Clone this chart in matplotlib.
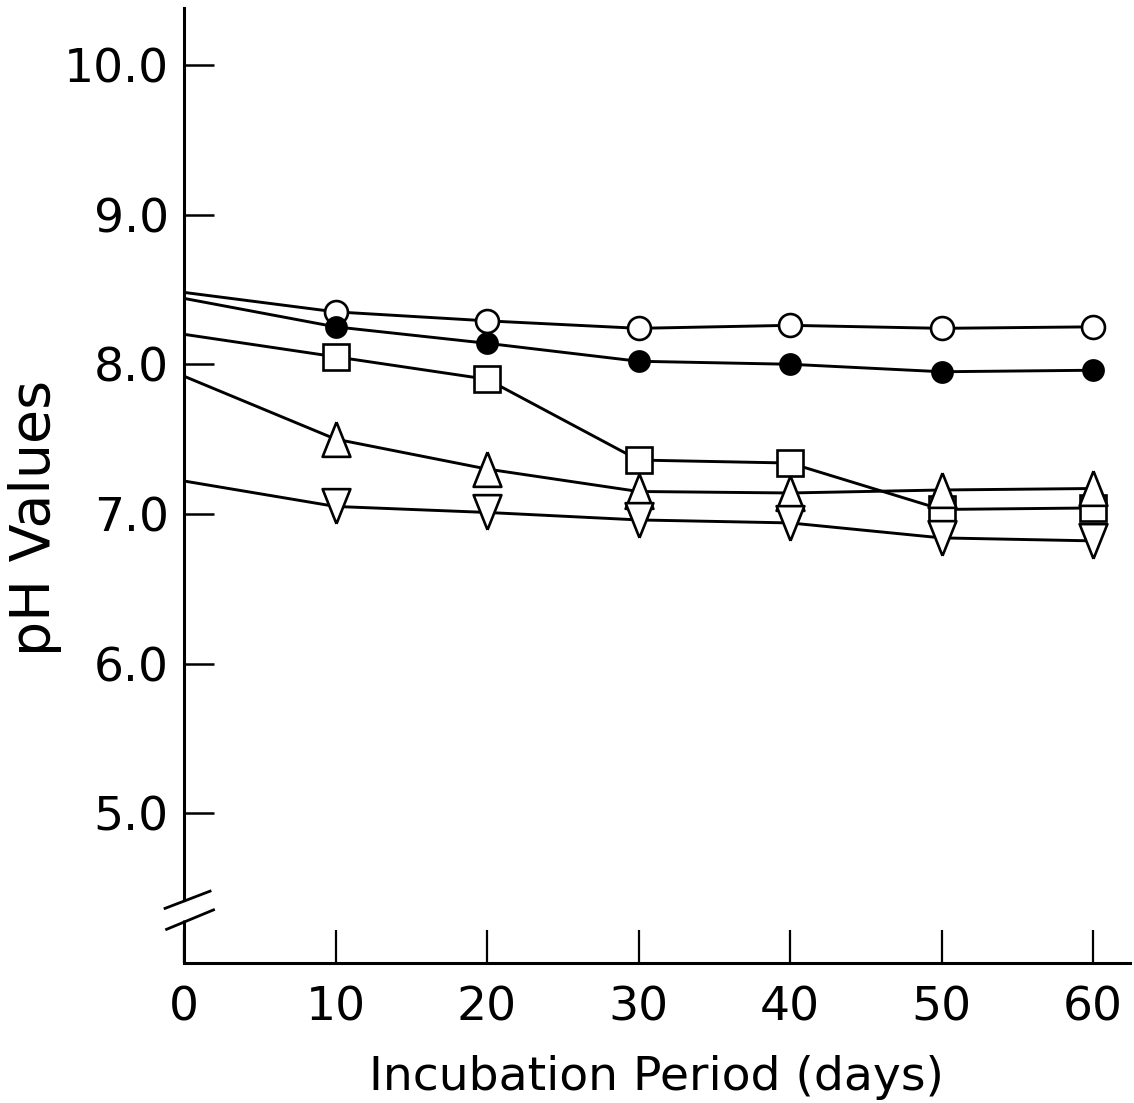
import matplotlib
matplotlib.use("Agg")
import matplotlib.pyplot as plt

# ---- data ----
days = [0, 10, 20, 30, 40, 50, 60]
ph_open_circle   = [8.48, 8.35, 8.29, 8.24, 8.26, 8.24, 8.25]
ph_filled_circle = [8.44, 8.25, 8.14, 8.02, 8.00, 7.95, 7.96]
ph_square        = [8.20, 8.05, 7.90, 7.36, 7.34, 7.03, 7.04]
ph_up_triangle   = [7.92, 7.50, 7.30, 7.15, 7.14, 7.16, 7.17]
ph_down_triangle = [7.22, 7.05, 7.01, 6.96, 6.94, 6.84, 6.82]

x_ticks = [0, 10, 20, 30, 40, 50, 60]
x_ticklabels = ["0", "10", "20", "30", "40", "50", "60"]
y_ticks = [5, 6, 7, 8, 9, 10]
y_ticklabels = ["5.0", "6.0", "7.0", "8.0", "9.0", "10.0"]

plt.rcParams['font.family'] = ['DejaVu Sans']

W, H = 1134, 1103
fig = plt.figure(figsize=(W / 100, H / 100), dpi=100)
# axes placement in pixels
x0_px, x1_px = 184, 1130
y_bot_px, y_top_px = 963, 8
ax = fig.add_axes([x0_px / W, 1 - y_bot_px / H,
                   (x1_px - x0_px) / W, (y_bot_px - y_top_px) / H])
ax.set_xlim(0, 62.44)
ax.set_ylim(4.0, 10.38)

up_tri = [(0, 1), (-0.8, -1), (0.8, -1), (0, 1)]
down_tri = [(0, -1), (-0.8, 1), (0.8, 1), (0, -1)]

series = [
    (ph_open_circle, 'o', 'white', 16.5),
    (ph_filled_circle, 'o', 'black', 14.5),
    (ph_square, 's', 'white', 18.5),
    (ph_up_triangle, up_tri, 'white', 25),
    (ph_down_triangle, down_tri, 'white', 25),
]

lw = 2.1
for vals, m, fc, ms in series:
    ax.plot(days, vals, color='black', lw=lw, zorder=2,
            solid_capstyle='butt', clip_on=False)
for vals, m, fc, ms in series:
    ax.plot(days[1:], vals[1:], linestyle='none', marker=m, markersize=ms,
            markerfacecolor=fc, markeredgecolor='black', markeredgewidth=1.9,
            zorder=3, clip_on=False)

# spines
for s in ['top', 'right']:
    ax.spines[s].set_visible(False)
ax.spines['left'].set_linewidth(2.2)
ax.spines['bottom'].set_linewidth(2.2)
ax.spines['left'].set_bounds(4.42, 10.38)

# lower piece of the broken y axis and the break marks
ax.plot([0, 0], [4.0, 4.29], color='black', lw=2.2, clip_on=False,
        solid_capstyle='butt', zorder=4)
ax.plot([-1.25, 1.72], [4.365, 4.48], color='black', lw=2.0, clip_on=False, zorder=4)
ax.plot([-1.15, 1.95], [4.225, 4.355], color='black', lw=2.0, clip_on=False, zorder=4)

# ticks
ax.set_xticks(x_ticks)
ax.set_xticklabels(x_ticklabels)
ax.set_yticks(y_ticks)
ax.set_yticklabels(y_ticklabels)
ax.tick_params(axis='x', direction='in', length=24, width=1.6,
               labelsize=34, pad=16)
ax.tick_params(axis='y', direction='in', length=21.5, width=1.8,
               labelsize=34, pad=11)

ax.set_xlabel('Incubation Period (days)', fontsize=34, va='baseline')
ax.xaxis.set_label_coords(0.499, -(1090 - 963) / (963 - 8))
ax.set_ylabel('pH Values', fontsize=40, va='center', rotation_mode='anchor')
ax.yaxis.set_label_coords(-0.157, 0.466)

fig.savefig('out.png', dpi=100)
